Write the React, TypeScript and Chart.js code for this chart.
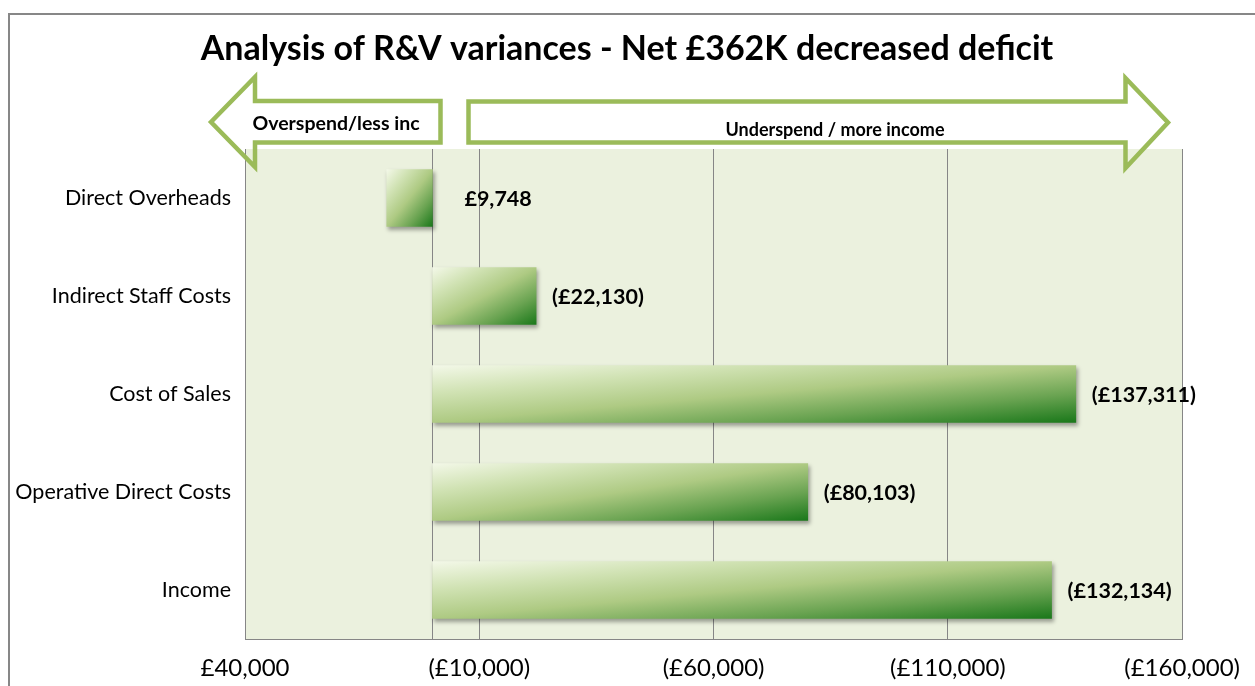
import React, { useEffect, useRef } from "react";
import { Chart, registerables } from "chart.js";

Chart.register(...registerables);

const categories = [
  "Direct Overheads",
  "Indirect Staff Costs",
  "Cost of Sales",
  "Operative Direct Costs",
  "Income",
];
const variances = [9748, -22130, -137311, -80103, -132134];
const tickValues = [40000, -10000, -60000, -110000, -160000];
const titleText = "Analysis of R&V variances - Net £362K decreased deficit";
const leftArrowText = "Overspend/less inc";
const rightArrowText = "Underspend / more income";

const FONT = "Lato, 'Open Sans', sans-serif";
const GRID = "#868686";
const PLOT_BG = "#EBF1DE";
const ARROW = "#9BBB59";
const BAR_H = 57;

function fmt(v: number): string {
  const s = "£" + Math.abs(v).toLocaleString("en-GB");
  return v < 0 ? `(${s})` : s;
}

const decorPlugin = {
  id: "decor",
  beforeDraw(chart: any) {
    const { ctx, chartArea: a } = chart;
    ctx.save();
    ctx.fillStyle = "#ffffff";
    ctx.fillRect(0, 0, chart.width, chart.height);
    ctx.fillStyle = PLOT_BG;
    ctx.fillRect(a.left, a.top, a.right - a.left, a.bottom - a.top);
    ctx.restore();
  },
  beforeDatasetsDraw(chart: any) {
    const { ctx, chartArea: a } = chart;
    const x0 = Math.round(chart.scales.x.getPixelForValue(0)) + 0.5;
    ctx.save();
    ctx.strokeStyle = GRID;
    ctx.lineWidth = 1;
    ctx.beginPath();
    ctx.moveTo(x0, a.top);
    ctx.lineTo(x0, a.bottom);
    ctx.stroke();
    ctx.restore();
    ctx.save();
    ctx.shadowColor = "rgba(0,0,0,0.35)";
    ctx.shadowBlur = 4;
    ctx.shadowOffsetX = 2;
    ctx.shadowOffsetY = 3;
  },
  afterDatasetsDraw(chart: any) {
    const { ctx } = chart;
    ctx.restore();
    const meta = chart.getDatasetMeta(0);
    const x0 = chart.scales.x.getPixelForValue(0);
    ctx.save();
    ctx.fillStyle = "#000";
    ctx.font = `bold 21.5px ${FONT}`;
    ctx.textAlign = "left";
    ctx.textBaseline = "middle";
    meta.data.forEach((el: any, i: number) => {
      const v = variances[i];
      const x = v < 0 ? el.x + 16 : x0 + 32;
      ctx.fillText(fmt(v), x, el.y + 1);
    });
    ctx.restore();
  },
  afterDraw(chart: any) {
    const { ctx } = chart;
    ctx.save();
    ctx.strokeStyle = "#878787";
    ctx.lineWidth = 2;
    ctx.beginPath();
    ctx.moveTo(9, chart.height);
    ctx.lineTo(9, 14);
    ctx.lineTo(chart.width, 14);
    ctx.stroke();

    ctx.fillStyle = "#000";
    ctx.font = `bold 34px ${FONT}`;
    ctx.textAlign = "center";
    ctx.textBaseline = "alphabetic";
    ctx.fillText(titleText, 627, 60);

    ctx.strokeStyle = ARROW;
    ctx.lineWidth = 4.5;
    ctx.lineJoin = "miter";
    ctx.beginPath();
    ctx.moveTo(211, 122);
    ctx.lineTo(255, 77);
    ctx.lineTo(255, 101);
    ctx.lineTo(440.5, 101);
    ctx.lineTo(440.5, 142.5);
    ctx.lineTo(255, 142.5);
    ctx.lineTo(255, 167);
    ctx.closePath();
    ctx.stroke();

    ctx.beginPath();
    ctx.moveTo(1168, 122.5);
    ctx.lineTo(1125.5, 78);
    ctx.lineTo(1125.5, 101.5);
    ctx.lineTo(468.5, 101.5);
    ctx.lineTo(468.5, 142.5);
    ctx.lineTo(1125.5, 142.5);
    ctx.lineTo(1125.5, 168);
    ctx.closePath();
    ctx.stroke();

    ctx.fillStyle = "#000";
    ctx.font = `bold 19.5px ${FONT}`;
    ctx.textAlign = "center";
    ctx.fillText(leftArrowText, 336, 130);
    ctx.font = `bold 18px ${FONT}`;
    ctx.fillText(rightArrowText, 835, 136);
    ctx.restore();
  },
};

// Gradient scaled with the bar's shape: isolines run along the bar's anti-diagonal.
function barFill(c: any): any {
  const chart = c.chart;
  const xs = chart.scales?.x;
  const ys = chart.scales?.y;
  if (!xs || !ys || c.type !== "data") return "#9BBB59";
  const v = c.raw as number;
  const xa = xs.getPixelForValue(0);
  const xb = xs.getPixelForValue(v);
  const yc = ys.getPixelForValue(c.dataIndex);
  if (![xa, xb, yc].every((n) => Number.isFinite(n))) return "#9BBB59";
  const left = Math.min(xa, xb);
  const w = Math.max(1, Math.abs(xb - xa));
  const h = BAR_H;
  const top = yc - h / 2;
  const t = (2 * w * h) / (w * w + h * h);
  const g = chart.ctx.createLinearGradient(left, top, left + t * h, top + t * w);
  g.addColorStop(0, "#F3F8E8");
  g.addColorStop(0.25, "#D0E2B3");
  g.addColorStop(0.5, "#AECA83");
  g.addColorStop(0.75, "#69A351");
  g.addColorStop(1, "#1A781A");
  return g;
}

export default function App() {
  const ref = useRef<HTMLCanvasElement | null>(null);
  useEffect(() => {
    if (!ref.current) return;
    const chart = new Chart(ref.current, {
      type: "bar",
      data: {
        labels: categories,
        datasets: [
          {
            data: variances,
            backgroundColor: barFill,
            borderWidth: 0,
            barThickness: BAR_H,
          },
        ],
      },
      options: {
        indexAxis: "y",
        animation: false,
        responsive: false,
        maintainAspectRatio: false,
        devicePixelRatio: 1,
        layout: { padding: { top: 149, right: 72, bottom: 0, left: 0 } },
        plugins: {
          legend: { display: false },
          tooltip: { enabled: false },
          title: { display: false },
        },
        scales: {
          x: {
            type: "linear",
            reverse: true,
            min: -160000,
            max: 40000,
            afterBuildTicks: (axis: any) => {
              axis.ticks = tickValues.map((v) => ({ value: v }));
            },
            afterFit: (s: any) => {
              s.height = 47;
            },
            grid: { color: GRID, lineWidth: 1, drawTicks: false },
            border: { display: true, color: GRID },
            ticks: {
              color: "#000",
              font: { family: FONT, size: 24 },
              padding: 15,
              maxRotation: 0,
              autoSkip: false,
              callback: (v: any) => fmt(Number(v)),
            },
          },
          y: {
            afterFit: (s: any) => {
              s.width = 245;
            },
            grid: { display: false, drawTicks: false },
            border: { display: true, color: GRID },
            ticks: {
              color: "#000",
              font: { family: FONT, size: 21.5 },
              padding: 14,
            },
          },
        },
      },
      plugins: [decorPlugin],
    });
    chart.update();
    return () => chart.destroy();
  }, []);
  return (
    <canvas
      ref={ref}
      width={1255}
      height={686}
      style={{ position: "absolute", left: 0, top: 0, display: "block" }}
    />
  );
}
